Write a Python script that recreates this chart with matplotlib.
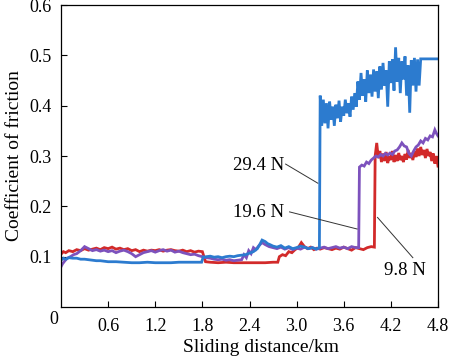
"""Coefficient of friction vs sliding distance for three normal loads."""

import matplotlib

matplotlib.use("Agg")
import matplotlib.pyplot as plt

# (sliding distance km, coefficient of friction)
blue_low = [
    (0.00, 0.093), (0.03, 0.097), (0.06, 0.095), (0.10, 0.098), (0.15, 0.097),
    (0.20, 0.097), (0.25, 0.095), (0.30, 0.095), (0.35, 0.094), (0.40, 0.093),
    (0.45, 0.092), (0.50, 0.092), (0.55, 0.091), (0.60, 0.090), (0.70, 0.090),
    (0.80, 0.089), (0.90, 0.088), (1.00, 0.088), (1.10, 0.089), (1.20, 0.088),
    (1.30, 0.088), (1.40, 0.088), (1.50, 0.089), (1.60, 0.089), (1.70, 0.089),
    (1.79, 0.089), (1.81, 0.099), (1.85, 0.100), (1.90, 0.101), (1.95, 0.099),
    (2.00, 0.100), (2.05, 0.098), (2.10, 0.100), (2.15, 0.101), (2.20, 0.100),
    (2.25, 0.102), (2.30, 0.103), (2.35, 0.104), (2.40, 0.107), (2.45, 0.110),
    (2.50, 0.116), (2.53, 0.124), (2.56, 0.133), (2.60, 0.130), (2.63, 0.126),
    (2.66, 0.124), (2.70, 0.121), (2.75, 0.119), (2.80, 0.122), (2.85, 0.117),
    (2.90, 0.120), (2.95, 0.116), (3.00, 0.118), (3.05, 0.121), (3.10, 0.119),
    (3.15, 0.116), (3.20, 0.118), (3.25, 0.115), (3.29, 0.118),
]
blue_high = [
    (3.30, 0.420), (3.32, 0.360), (3.34, 0.412), (3.36, 0.365), (3.38, 0.405),
    (3.40, 0.355), (3.42, 0.408), (3.44, 0.372), (3.46, 0.398), (3.48, 0.360),
    (3.50, 0.402), (3.52, 0.375), (3.54, 0.410), (3.56, 0.368), (3.58, 0.398),
    (3.60, 0.380), (3.62, 0.412), (3.64, 0.385), (3.66, 0.405), (3.68, 0.378),
    (3.70, 0.418), (3.72, 0.392), (3.74, 0.425), (3.76, 0.398), (3.78, 0.448),
    (3.80, 0.412), (3.82, 0.465), (3.84, 0.420), (3.86, 0.452), (3.88, 0.408),
    (3.90, 0.470), (3.92, 0.425), (3.94, 0.462), (3.96, 0.418), (3.98, 0.472),
    (4.00, 0.428), (4.02, 0.468), (4.04, 0.415), (4.06, 0.478), (4.08, 0.432),
    (4.10, 0.485), (4.12, 0.440), (4.14, 0.470), (4.16, 0.398), (4.18, 0.488),
    (4.20, 0.445), (4.22, 0.492), (4.24, 0.430), (4.26, 0.516), (4.28, 0.448),
    (4.30, 0.495), (4.32, 0.425), (4.34, 0.488), (4.36, 0.452), (4.38, 0.498),
    (4.40, 0.420), (4.42, 0.480), (4.44, 0.386), (4.46, 0.490), (4.48, 0.440),
    (4.50, 0.495), (4.52, 0.428), (4.54, 0.492), (4.56, 0.440), (4.58, 0.493),
    (4.80, 0.493),
]

purple_low = [
    (0.00, 0.080), (0.02, 0.086), (0.05, 0.092), (0.08, 0.097), (0.12, 0.100),
    (0.16, 0.104), (0.20, 0.106), (0.25, 0.112), (0.30, 0.120), (0.35, 0.116),
    (0.40, 0.112), (0.45, 0.114), (0.50, 0.111), (0.55, 0.113), (0.60, 0.110),
    (0.65, 0.112), (0.70, 0.108), (0.75, 0.111), (0.80, 0.113), (0.85, 0.110),
    (0.90, 0.106), (0.95, 0.100), (1.00, 0.104), (1.05, 0.108), (1.10, 0.110),
    (1.15, 0.112), (1.20, 0.109), (1.25, 0.112), (1.30, 0.114), (1.35, 0.111),
    (1.40, 0.113), (1.45, 0.109), (1.50, 0.111), (1.55, 0.108), (1.60, 0.106),
    (1.65, 0.104), (1.70, 0.105), (1.75, 0.102), (1.80, 0.100), (1.85, 0.098),
    (1.90, 0.097), (1.95, 0.095), (2.00, 0.094), (2.05, 0.095), (2.10, 0.093),
    (2.15, 0.094), (2.20, 0.092), (2.25, 0.093), (2.30, 0.094), (2.33, 0.104),
    (2.36, 0.098), (2.39, 0.112), (2.42, 0.106), (2.45, 0.118), (2.48, 0.114),
    (2.52, 0.122), (2.56, 0.128), (2.60, 0.124), (2.65, 0.120), (2.70, 0.118),
    (2.75, 0.116), (2.80, 0.119), (2.85, 0.115), (2.90, 0.118), (2.95, 0.114),
    (3.00, 0.117), (3.05, 0.115), (3.10, 0.119), (3.15, 0.116), (3.20, 0.118),
    (3.25, 0.115), (3.30, 0.117), (3.35, 0.119), (3.40, 0.116), (3.45, 0.118),
    (3.50, 0.120), (3.55, 0.117), (3.60, 0.119), (3.65, 0.116), (3.70, 0.120),
    (3.75, 0.118), (3.79, 0.118),
]
purple_high = [
    (3.80, 0.278), (3.83, 0.282), (3.86, 0.280), (3.89, 0.288), (3.92, 0.285),
    (3.95, 0.292), (3.98, 0.296), (4.01, 0.300), (4.04, 0.298), (4.07, 0.303),
    (4.10, 0.300), (4.13, 0.305), (4.16, 0.302), (4.19, 0.306), (4.22, 0.303),
    (4.25, 0.310), (4.28, 0.312), (4.31, 0.318), (4.34, 0.326), (4.37, 0.320),
    (4.40, 0.318), (4.43, 0.305), (4.46, 0.300), (4.49, 0.310), (4.52, 0.318),
    (4.55, 0.322), (4.58, 0.330), (4.61, 0.326), (4.64, 0.335), (4.67, 0.332),
    (4.70, 0.340), (4.73, 0.338), (4.76, 0.352), (4.78, 0.345), (4.80, 0.340),
]

red_low = [
    (0.00, 0.105), (0.03, 0.110), (0.06, 0.108), (0.10, 0.112), (0.15, 0.110),
    (0.20, 0.114), (0.25, 0.112), (0.30, 0.116), (0.35, 0.113), (0.40, 0.115),
    (0.45, 0.117), (0.50, 0.114), (0.55, 0.118), (0.60, 0.116), (0.65, 0.119),
    (0.70, 0.115), (0.75, 0.117), (0.80, 0.114), (0.85, 0.116), (0.90, 0.112),
    (0.95, 0.114), (1.00, 0.110), (1.05, 0.113), (1.10, 0.111), (1.15, 0.113),
    (1.20, 0.112), (1.25, 0.114), (1.30, 0.111), (1.35, 0.113), (1.40, 0.114),
    (1.45, 0.112), (1.50, 0.111), (1.55, 0.113), (1.60, 0.110), (1.65, 0.112),
    (1.70, 0.109), (1.75, 0.111), (1.80, 0.110), (1.82, 0.100), (1.84, 0.090),
    (1.90, 0.089), (2.00, 0.088), (2.10, 0.089), (2.20, 0.088), (2.30, 0.088),
    (2.40, 0.088), (2.50, 0.088), (2.60, 0.088), (2.70, 0.089), (2.76, 0.089),
    (2.78, 0.100), (2.82, 0.104), (2.86, 0.102), (2.90, 0.110), (2.94, 0.108),
    (2.98, 0.114), (3.02, 0.118), (3.06, 0.128), (3.10, 0.120), (3.14, 0.116),
    (3.18, 0.119), (3.22, 0.114), (3.26, 0.117), (3.30, 0.115), (3.35, 0.118),
    (3.40, 0.116), (3.45, 0.114), (3.50, 0.117), (3.55, 0.115), (3.60, 0.119),
    (3.65, 0.116), (3.70, 0.113), (3.75, 0.118), (3.80, 0.116), (3.85, 0.114),
    (3.90, 0.118), (3.95, 0.120), (3.99, 0.119),
]
red_high = [
    (4.00, 0.300), (4.02, 0.326), (4.04, 0.296), (4.06, 0.310), (4.08, 0.288),
    (4.10, 0.305), (4.12, 0.290), (4.14, 0.308), (4.16, 0.286), (4.18, 0.300),
    (4.20, 0.292), (4.22, 0.310), (4.24, 0.288), (4.26, 0.302), (4.28, 0.290),
    (4.30, 0.306), (4.32, 0.292), (4.34, 0.300), (4.36, 0.288), (4.38, 0.304),
    (4.40, 0.293), (4.42, 0.312), (4.44, 0.296), (4.46, 0.306), (4.48, 0.292),
    (4.50, 0.310), (4.52, 0.298), (4.54, 0.315), (4.56, 0.300), (4.58, 0.318),
    (4.60, 0.302), (4.62, 0.312), (4.64, 0.296), (4.66, 0.314), (4.68, 0.300),
    (4.70, 0.308), (4.72, 0.290), (4.74, 0.305), (4.76, 0.285), (4.78, 0.300),
    (4.80, 0.280),
]

# label text position, leader line start and end
labels = ["29.4 N", "19.6 N", "9.8 N"]
label_xy = [(2.51, 0.282), (2.51, 0.187), (4.38, 0.072)]
leader_from = [(2.86, 0.284), (2.91, 0.189), (4.48, 0.098)]
leader_to = [(3.27, 0.246), (3.77, 0.155), (4.03, 0.178)]

xticks = [0.6, 1.2, 1.8, 2.4, 3.0, 3.6, 4.2, 4.8]
yticks = [0.1, 0.2, 0.3, 0.4, 0.5, 0.6]

plt.rcParams["font.family"] = ["Liberation Serif", "DejaVu Serif"]
plt.rcParams["font.size"] = 13

fig = plt.figure(figsize=(4.5, 3.59), dpi=100)
ax = fig.add_axes([0.1356, 0.1448, 0.8377, 0.8412])


def unzip(pts):
    return [p[0] for p in pts], [p[1] for p in pts]


series = [
    (red_low + red_high, "#d22a2a"),
    (purple_low + purple_high, "#7d52bd"),
    (blue_low + blue_high, "#2c7bcf"),
]
for pts, col in series:
    xs, ys = unzip(pts)
    ax.plot(xs, ys, color=col, lw=2.0, solid_joinstyle="miter")

for txt, (tx, ty), (x0, y0), (x1, y1) in zip(labels, label_xy, leader_from, leader_to):
    ax.plot([x0, x1], [y0, y1], color="#333333", lw=0.7)
    ax.text(tx, ty, txt, ha="center", va="center", fontsize=13.5)

ax.set_xlim(0, 4.8)
ax.set_ylim(0, 0.6)
ax.set_xticks(xticks)
ax.set_yticks(yticks)
ax.tick_params(direction="in", length=4, width=0.8, pad=7)
ax.tick_params(axis="x", pad=8)
ax.text(-0.008, -0.012, "0", transform=ax.transAxes, ha="right", va="top")
for s in ax.spines.values():
    s.set_linewidth(0.9)

ax.set_xlabel("Sliding distance/km", fontsize=14, labelpad=3)
ax.xaxis.set_label_coords(0.53, -0.105)
ax.set_ylabel("Coefficient of friction", fontsize=14, labelpad=4)

fig.savefig("out.png", dpi=100)
plt.close(fig)
